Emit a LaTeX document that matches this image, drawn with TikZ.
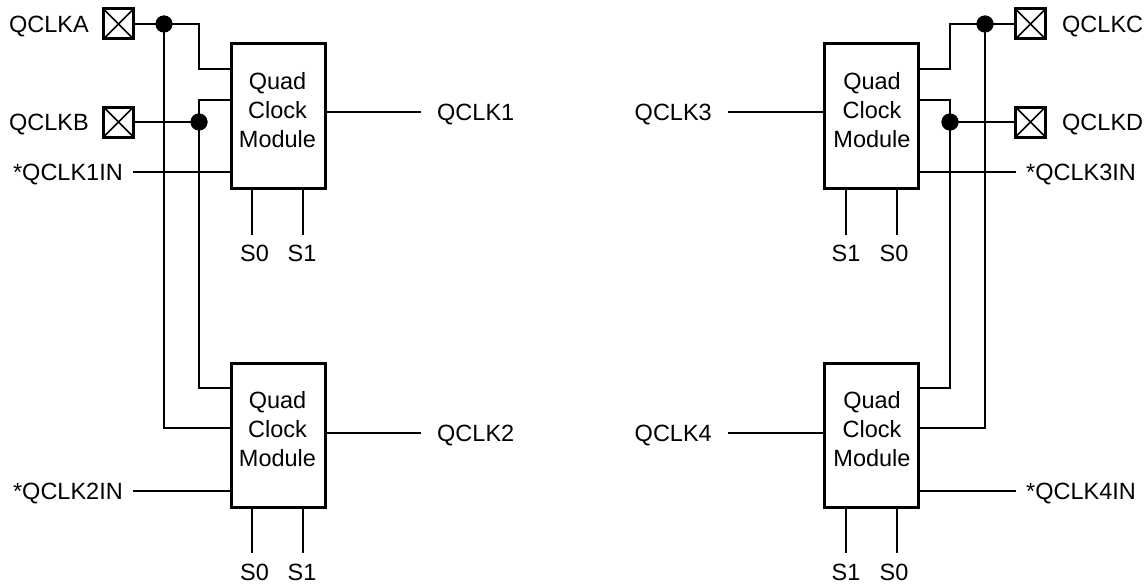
\documentclass[tikz,border=0pt]{standalone}
\usepackage{fontspec}
\setmainfont{Liberation Sans}
\begin{document}
\begin{tikzpicture}[x=1pt,y=-1pt,
  wire/.style={line width=1.3pt},
  modbox/.style={draw, line width=3pt, minimum width=94pt, minimum height=144pt, inner sep=0pt},
  pad/.style={draw, line width=3pt, minimum size=30pt, inner sep=0pt,
    path picture={\draw[line width=1.6pt] (path picture bounding box.north west) -- (path picture bounding box.south east)
      (path picture bounding box.north east) -- (path picture bounding box.south west);}},
  jdot/.style={circle, fill=black, inner sep=0pt, minimum size=17pt},
  lbl/.style={font=\fontsize{23.5}{29}\selectfont, inner ysep=0pt, inner xsep=0pt, text height=17pt, text depth=0pt},
  modtext/.style={font=\fontsize{23.5}{29}\selectfont, align=center, inner sep=0pt}
]
\useasboundingbox (0,0) rectangle (1145,586);

% ---------- modules ----------
\node[modbox] (m1) at (278,116) {};
\node[modbox] (m2) at (278,435) {};
\node[modbox] (m3) at (871,116) {};
\node[modbox] (m4) at (871,435) {};
\node[modtext] (t1) at (277.5,110.5) {Quad\\Clock\\Module};
\node[modtext] (t2) at (277.5,429.5) {Quad\\Clock\\Module};
\node[modtext] (t3) at (872,110.5) {Quad\\Clock\\Module};
\node[modtext] (t4) at (872,429.5) {Quad\\Clock\\Module};

% ---------- pads ----------
\node[pad] (pA) at (118.5,24) {};
\node[pad] (pB) at (118.5,122) {};
\node[pad] (pC) at (1030.5,24) {};
\node[pad] (pD) at (1030.5,122) {};
\node[lbl, anchor=east] (lA) at (89,24) {QCLKA};
\node[lbl, anchor=east] (lB) at (89,122) {QCLKB};
\node[lbl, anchor=west] (lC) at (1062,24) {QCLKC};
\node[lbl, anchor=west] (lD) at (1062,122) {QCLKD};

% ---------- pin coordinates ----------
\coordinate (m1a) at (231,69);
\coordinate (m1b) at (231,100);
\coordinate (m1c) at (231,172);
\coordinate (m2a) at (231,388);
\coordinate (m2b) at (231,428);
\coordinate (m2c) at (231,491);
\coordinate (m3a) at (918,69);
\coordinate (m3b) at (918,100);
\coordinate (m3c) at (918,172);
\coordinate (m4a) at (918,388);
\coordinate (m4b) at (918,428);
\coordinate (m4c) at (918,491);
\coordinate (jA) at (199,69);
\coordinate (jB1) at (199,100);
\coordinate (jB2) at (199,388);
\coordinate (jC) at (950,69);
\coordinate (jD1) at (950,100);
\coordinate (jD2) at (950,388);
\coordinate (o1) at (325,112);
\coordinate (o2) at (325,433);
\coordinate (o3) at (824,112);
\coordinate (o4) at (824,433);

% ---------- dots ----------
\node[jdot] (dA) at (164,24) {};
\node[jdot] (dB) at (199,122) {};
\node[jdot] (dC) at (985,24) {};
\node[jdot] (dD) at (950,122) {};

% ---------- left wiring ----------
\draw[wire] (pA.east) -- (dA.center) -| (jA) -- (m1a);
\draw[wire] (dA.center) |- (m2b);
\draw[wire] (pB.east) -- (dB.center);
\draw[wire] (m1b) -- (jB1) -- (jB2) -- (m2a);

% ---------- right wiring ----------
\draw[wire] (pC.west) -- (dC.center) -| (jC) -- (m3a);
\draw[wire] (dC.center) |- (m4b);
\draw[wire] (pD.west) -- (dD.center);
\draw[wire] (m3b) -- (jD1) -- (jD2) -- (m4a);

% redraw dots on top
\node[jdot] at (dA) {};
\node[jdot] at (dB) {};
\node[jdot] at (dC) {};
\node[jdot] at (dD) {};

% ---------- side signals ----------
\node[lbl, anchor=east, inner xsep=10pt] (in1) at (133,172) {*QCLK1IN};
\node[lbl, anchor=east, inner xsep=10pt] (in2) at (133,491) {*QCLK2IN};
\node[lbl, anchor=west, inner xsep=10pt] (in3) at (1016,172) {*QCLK3IN};
\node[lbl, anchor=west, inner xsep=10pt] (in4) at (1016,491) {*QCLK4IN};
\draw[wire] (in1.east) -- (m1c);
\draw[wire] (in2.east) -- (m2c);
\draw[wire] (in3.west) -- (m3c);
\draw[wire] (in4.west) -- (m4c);

\node[lbl, anchor=west, inner xsep=16pt] (q1) at (421,112) {QCLK1};
\node[lbl, anchor=west, inner xsep=16pt] (q2) at (421,433) {QCLK2};
\node[lbl, anchor=east, inner xsep=16pt] (q3) at (728,112) {QCLK3};
\node[lbl, anchor=east, inner xsep=16pt] (q4) at (728,433) {QCLK4};
\draw[wire] (o1) -- (q1.west);
\draw[wire] (o2) -- (q2.west);
\draw[wire] (q3.east) -- (o3);
\draw[wire] (q4.east) -- (o4);

% ---------- select pins ----------
\node[lbl, anchor=north] (s10) at (254.5,244) {S0};
\node[lbl, anchor=north] (s11) at (302,244) {S1};
\node[lbl, anchor=north] (s20) at (254.5,563) {S0};
\node[lbl, anchor=north] (s21) at (302,563) {S1};
\node[lbl, anchor=north] (s31) at (846,244) {S1};
\node[lbl, anchor=north] (s30) at (894,244) {S0};
\node[lbl, anchor=north] (s41) at (846,563) {S1};
\node[lbl, anchor=north] (s40) at (894,563) {S0};
\draw[wire] (252,188) -- (252,235);
\draw[wire] (303,188) -- (303,235);
\draw[wire] (252,507) -- (252,553);
\draw[wire] (303,507) -- (303,553);
\draw[wire] (846,188) -- (846,235);
\draw[wire] (897,188) -- (897,235);
\draw[wire] (846,507) -- (846,553);
\draw[wire] (897,507) -- (897,553);
\end{tikzpicture}
\end{document}
